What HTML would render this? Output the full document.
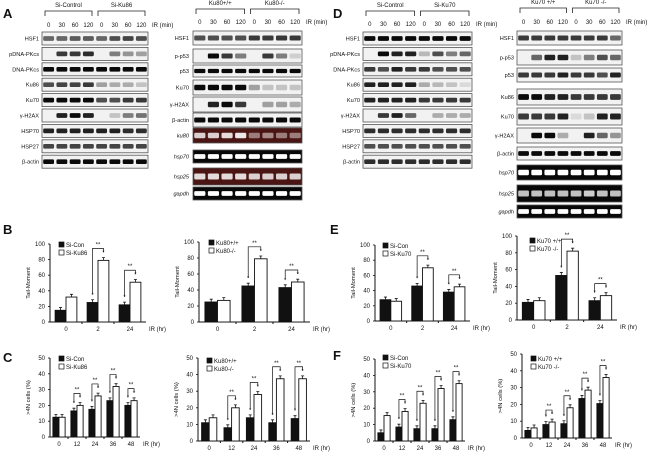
<!DOCTYPE html>
<html><head><meta charset="utf-8"><style>
html,body{margin:0;padding:0;background:#fff;}
svg{display:block;font-family:"Liberation Sans",sans-serif;}
</style></head><body>
<svg id="fig" width="650" height="463" viewBox="0 0 650 463" xmlns="http://www.w3.org/2000/svg"></svg>
<script>
// ---- chart data ----
const catsB = ["0","2","24"];
const catsC = ["0","12","24","36","48"];
const bLeftCon = [15,25,22];
const bLeftKd = [32,79,51];
const bRightWt = [25,45,43];
const bRightKo = [27,79,50];
const cLeftCon = [12.5,16.5,17.5,23,20];
const cLeftKd = [12.5,20,26,32,23];
const cRightWt = [11,8,14,11,13.5];
const cRightKo = [14,20,28,37.5,37.5];
const eLeftCon = [28,46,38];
const eLeftKd = [26,70,45];
const eRightWt = [21,53,23];
const eRightKo = [23,82,29];
const fLeftCon = [5,8.5,7.5,7.5,13];
const fLeftKd = [15.5,18,23,32,35];
const fRightWt = [4.5,8,8.5,23.5,20.5];
const fRightKo = [6,9.5,18,28.5,36];
const tickTail = [0,20,40,60,80,100];
const tickCells = [0,10,20,30,40,50];
const timeLabels = ["0","30","60","120","0","30","60","120"];

const NS="http://www.w3.org/2000/svg";
const svg=document.getElementById('fig');
function el(tag,attrs,parent,text){
  const e=document.createElementNS(NS,tag);
  for(const k in attrs) e.setAttribute(k,attrs[k]);
  if(text!==undefined) e.textContent=text;
  (parent||svg).appendChild(e);
  return e;
}
function txt(x,y,s,size,parent,anchor,extra){
  const a={x:x,y:y,'font-size':size,'text-anchor':anchor||'start',fill:'#111'};
  if(extra) for(const k in extra) a[k]=extra[k];
  return el('text',a,parent,s);
}

[["A",3,18],["B",3,234],["C",3,362],["D",333,18],["E",330,234],["F",333,360]].forEach(p=>{
  const t=txt(p[1],p[2],p[0],13,svg,'start',{'font-weight':'bold'});
  
  
});

function blot(name,labelX,boxX,boxW,rows,groups,headerY,bracketY,timeY){
  const g=el('g',{});
  
  
  const lane=boxW/8;
  groups.forEach((gr,i)=>{
    const gx0=boxX+lane*(i*4)+3, gx1=boxX+lane*(i*4+4)-3;
    txt((gx0+gx1)/2,headerY,gr,6,g,'middle');
    el('path',{d:`M${gx0},${bracketY+5}V${bracketY}H${gx1}V${bracketY+5}`,fill:'none',stroke:'#222','stroke-width':0.8},g);
  });
  timeLabels.forEach((t,i)=>txt(boxX+lane*(i+0.5),timeY,t,6,g,'middle'));
  txt(boxX+boxW+4,timeY,"IR (min)",6,g,'start');
  rows.forEach(r=>{
    const row=el('g',{},g);
    
    
    const bg=r.t==='red'?'#4a1512':(r.t==='black'?'#080808':'#f2f2f2');
    el('rect',{x:boxX,y:r.y,width:boxW,height:r.h,fill:bg,stroke:'#555','stroke-width':0.8},row);
    txt(labelX,r.y+r.h/2+2,r.n,5.6,row,'end',r.t!=='wb'?{'font-style':'italic'}:{});
    r.v.forEach((v,i)=>{
      if(v<=0) return;
      const cx=boxX+lane*(i+0.5), bw=lane*0.82, bh=Math.max(2.5,r.h*0.36);
      const col = r.t==='wb' ? `rgba(10,10,10,${v})` : `rgba(255,255,255,${v})`;
      el('rect',{x:cx-bw/2,y:r.y+r.h/2-bh/2,width:bw,height:bh,rx:1.2,fill:col},row);
    });
  });
}
const full=[1,1,1,1,1,1,1,1];
blot('blot-a-left',39,42,106,[
 {n:"HSF1",y:32,h:13,t:'wb',v:[.6,.6,.65,.65,.6,.7,.75,.7]},
 {n:"pDNA-PKcs",y:47.4,h:13,t:'wb',v:[0,.8,.8,.85,0,.5,.4,.35]},
 {n:"DNA-PKcs",y:62.8,h:13,t:'wb',v:full},
 {n:"Ku86",y:78.2,h:13,t:'wb',v:[.7,.75,.75,.8,.35,.3,.3,.2]},
 {n:"Ku70",y:93.6,h:13,t:'wb',v:[1,1,1,1,.7,.7,.8,.8]},
 {n:"γ-H2AX",y:109,h:13,t:'wb',v:[0,.9,1,.9,0,.2,.5,.55]},
 {n:"HSP70",y:124.4,h:13,t:'wb',v:[.9,.9,.9,.9,.9,.9,.85,.85]},
 {n:"HSP27",y:139.8,h:13,t:'wb',v:[.75,.75,.75,.75,.75,.75,.75,.75]},
 {n:"β-actin",y:155.2,h:13,t:'wb',v:full}
],["Si-Control","Si-Ku86"],7,11,27);
blot('blot-a-right',189,193,109,[
 {n:"HSF1",y:31,h:14,t:'wb',v:[.7,.7,.7,.7,.8,.8,.8,.8]},
 {n:"p-p53",y:49,h:14,t:'wb',v:[0,1,.8,.5,0,.8,.5,.15]},
 {n:"p53",y:65,h:12,t:'wb',v:full},
 {n:"Ku70",y:80,h:15,t:'wb',v:[1,1,1,1,.35,.2,.2,.2]},
 {n:"γ-H2AX",y:97,h:15,t:'wb',v:[0,.9,1,.8,0,.35,.35,.3]},
 {n:"β-actin",y:113,h:14,t:'wb',v:full},
 {n:"ku80",y:128,h:15,t:'red',v:[.8,.8,.85,.9,.45,.5,.45,.45]},
 {n:"hsp70",y:150,h:13,t:'black',v:full},
 {n:"hsp25",y:168,h:17,t:'red',v:[.85,.85,.85,.85,.8,.8,.8,.8]},
 {n:"gapdh",y:187,h:13,t:'black',v:full}
],["Ku80+/+","Ku80-/-"],5,9,24);
blot('blot-d-left',360,363,109,[
 {n:"HSF1",y:32,h:13,t:'wb',v:full},
 {n:"pDNA-PKcs",y:47.4,h:13,t:'wb',v:[0,1,.9,.9,.25,.7,.5,.6]},
 {n:"DNA-PKcs",y:62.8,h:13,t:'wb',v:[.8,.7,.9,.8,.8,.7,.7,.7]},
 {n:"Ku86",y:78.2,h:13,t:'wb',v:[.9,.9,.9,.9,.3,.25,.2,.1]},
 {n:"Ku70",y:93.6,h:13,t:'wb',v:[.9,.9,.9,.9,.8,.8,.8,.8]},
 {n:"γ-H2AX",y:109,h:13,t:'wb',v:[0,.8,.9,.6,0,.3,.3,.3]},
 {n:"HSP70",y:124.4,h:13,t:'wb',v:[.85,.85,.85,.85,.85,.85,.85,.85]},
 {n:"HSP27",y:139.8,h:13,t:'wb',v:[.7,.7,.7,.7,.7,.7,.7,.7]},
 {n:"β-actin",y:155.2,h:13,t:'wb',v:[.85,.85,.85,.85,.85,.85,.85,.85]}
],["Si-Control","Si-Ku70"],7,11,26);
blot('blot-d-right',514,517,105,[
 {n:"HSF1",y:31,h:14,t:'wb',v:[.8,.8,.8,.8,.8,.8,.8,.6]},
 {n:"p-p53",y:50,h:15,t:'wb',v:[0,.6,.9,.9,.2,.5,.7,.6]},
 {n:"p53",y:68,h:14,t:'wb',v:[.8,.8,.8,.9,.8,.8,.7,.9]},
 {n:"Ku86",y:89,h:16,t:'wb',v:[1,1,.9,.9,.8,.8,.8,.8]},
 {n:"Ku70",y:108,h:17,t:'wb',v:[.8,.8,.8,.9,.1,.2,.9,.9]},
 {n:"γ-H2AX",y:128,h:15,t:'wb',v:[0,1,1,.3,0,.9,.6,.4]},
 {n:"β-actin",y:147,h:13,t:'wb',v:full},
 {n:"hsp70",y:165,h:15,t:'black',v:full},
 {n:"hsp25",y:185,h:17,t:'black',v:[.75,.75,.75,.75,.75,.8,.75,.75]},
 {n:"gapdh",y:205,h:13,t:'black',v:full}
],["Ku70 +/+","Ku70 -/-"],4,8,24);

function chart(o){
  const g=el('g',{});
  
  
  const n=o.cats.length, band=(o.x1-o.x0)/n, bw=band*0.34;
  const y=v=>o.yb-(v/o.max)*(o.yb-o.yt);
  const xc=i=>o.x0+band*(i+0.5);
  el('line',{x1:o.x0,y1:o.yt,x2:o.x0,y2:o.yb,stroke:'#111','stroke-width':1},g);
  el('line',{x1:o.x0,y1:o.yb,x2:o.x1,y2:o.yb,stroke:'#111','stroke-width':1},g);
  o.ticks.forEach(t=>{
    el('line',{x1:o.x0-2,y1:y(t),x2:o.x0,y2:y(t),stroke:'#111','stroke-width':0.8},g);
    const tl=txt(o.x0-5,y(t)+2,String(t),6,g,'end');
    
    
  });
  for(let i=1;i<n;i++) el('line',{x1:o.x0+band*i,y1:o.yb,x2:o.x0+band*i,y2:o.yb+2,stroke:'#111'},g);
  o.cats.forEach((c,i)=>txt(xc(i),o.yb+9,c,6,g,'middle'));
  txt(o.x1+3,o.yb+9,"IR (hr)",6,g,'start');
  const yl=txt(0,0,o.ylabel,5.8,g,'middle',{transform:`translate(${o.x0-20},${(o.yb+o.yt)/2}) rotate(-90)`});
  
  
  [o.s1,o.s2].forEach((s,k)=>{
    s.forEach((v,i)=>{
      const bx=xc(i)+(k===0?-bw:0);
      const r=el('rect',{x:bx,y:y(v),width:bw,height:o.yb-y(v),fill:k===0?'#111':'#fff',stroke:'#111','stroke-width':0.9},g);
      
      
      const err=o.max*0.035;
      el('path',{d:`M${bx+bw/2},${y(v)}V${y(v+err)}M${bx+bw/2-1.5},${y(v+err)}H${bx+bw/2+1.5}`,stroke:'#111','stroke-width':0.8,fill:'none'},g);
      if(i>0) txt(bx+bw/2,y(v+err)-3,"*",6,g,'middle');
    });
  });
  for(let i=1;i<n;i++){
    const by=Math.min(y(o.s1[i]),y(o.s2[i]))-12;
    const a=xc(i)-bw/2, b=xc(i)+bw/2;
    el('path',{d:`M${a},${y(o.s1[i])-8}V${by}H${b}V${y(o.s2[i])-8}`,fill:'none',stroke:'#111','stroke-width':0.7},g);
    txt((a+b)/2,by-2,"**",6,g,'middle');
  }
  const lg=el('g',{},g);
  
  
  [[o.l1,'#111'],[o.l2,'#fff']].forEach((L,k)=>{
    el('rect',{x:o.lx,y:o.ly+k*8,width:5,height:5,fill:L[1],stroke:'#111','stroke-width':0.7},lg);
    txt(o.lx+7,o.ly+k*8+5,L[0],6,lg,'start');
  });
}
chart({name:'chart-b-left',x0:50,x1:146,yb:322,yt:244,max:100,ticks:tickTail,cats:catsB,s1:bLeftCon,s2:bLeftKd,l1:"Si-Con",l2:"Si-Ku86",ylabel:"Tail-Moment",lx:59,ly:242});
chart({name:'chart-b-right',x0:199,x1:310,yb:322,yt:242,max:100,ticks:tickTail,cats:catsB,s1:bRightWt,s2:bRightKo,l1:"Ku80+/+",l2:"Ku80-/-",ylabel:"Tail-Moment",lx:209,ly:240});
chart({name:'chart-c-left',x0:50,x1:140,yb:437,yt:358,max:50,ticks:tickCells,cats:catsC,s1:cLeftCon,s2:cLeftKd,l1:"Si-Con",l2:"Si-Ku86",ylabel:">4N cells (%)",lx:59,ly:356});
chart({name:'chart-c-right',x0:198,x1:310,yb:441,yt:358,max:50,ticks:tickCells,cats:catsC,s1:cRightWt,s2:cRightKo,l1:"Ku80+/+",l2:"Ku80-/-",ylabel:">4N cells (%)",lx:207,ly:358});
chart({name:'chart-e-left',x0:375,x1:470,yb:321,yt:245,max:100,ticks:tickTail,cats:catsB,s1:eLeftCon,s2:eLeftKd,l1:"Si-Con",l2:"Si-Ku70",ylabel:"Tail-Moment",lx:383,ly:243});
chart({name:'chart-e-right',x0:517,x1:617,yb:320,yt:236,max:100,ticks:tickTail,cats:catsB,s1:eRightWt,s2:eRightKo,l1:"Ku70 +/+",l2:"Ku70 -/-",ylabel:"Tail-Moment",lx:530,ly:238});
chart({name:'chart-f-left',x0:375,x1:465,yb:441,yt:359,max:50,ticks:tickCells,cats:catsC,s1:fLeftCon,s2:fLeftKd,l1:"Si-Con",l2:"Si-Ku70",ylabel:">4N cells (%)",lx:383,ly:355});
chart({name:'chart-f-right',x0:522,x1:612,yb:438,yt:354,max:50,ticks:tickCells,cats:catsC,s1:fRightWt,s2:fRightKo,l1:"Ku70 +/+",l2:"Ku70 -/-",ylabel:">4N cells (%)",lx:531,ly:356});
</script>
</body></html>
